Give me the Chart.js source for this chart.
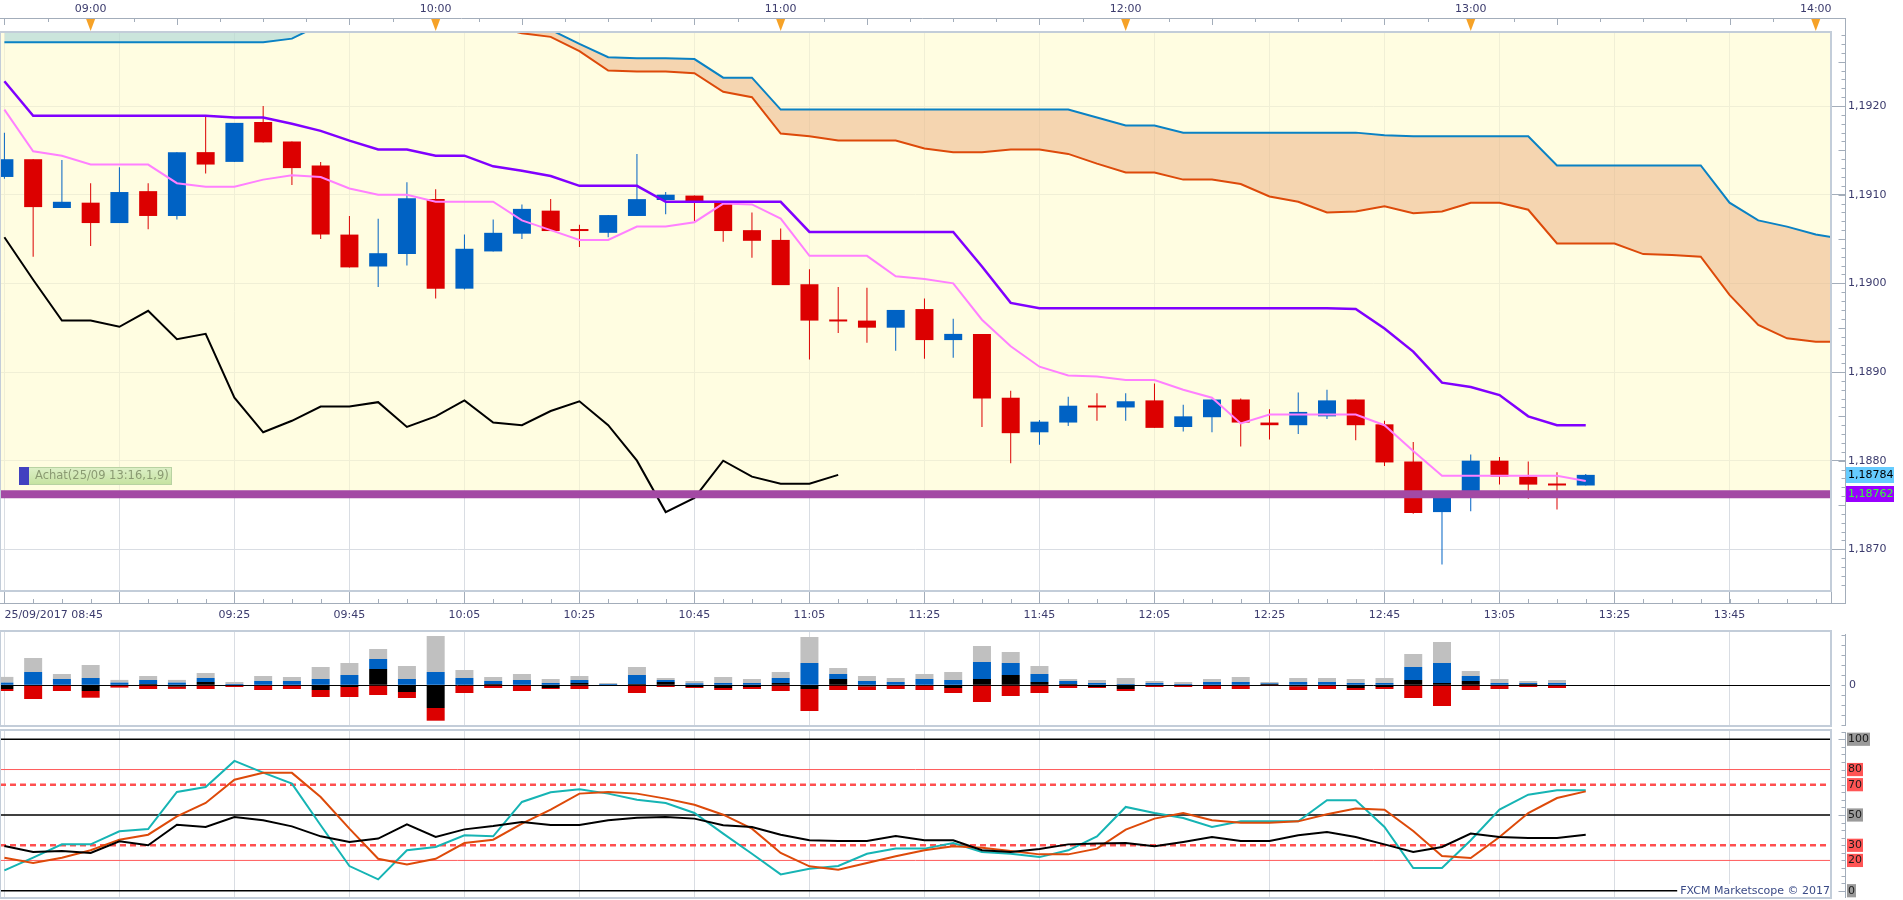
<!DOCTYPE html>
<html>
<head>
<meta charset="utf-8">
<title>EUR/USD m5 - 25/09/2017</title>
<script src="https://cdn.jsdelivr.net/npm/chart.js@4.4.1/dist/chart.umd.min.js"></script>
<style>
  html, body { margin: 0; padding: 0; background: #fff; overflow: hidden; }
  #wrap { position: relative; width: 1903px; height: 900px; }
  canvas { position: absolute; left: 0; }
  #main { top: 0; }
  #vol { top: 628px; }
  #osc { top: 728px; }
</style>
</head>
<body>
<div id="wrap">
  <canvas id="main" width="1903" height="628"></canvas>
  <canvas id="vol" width="1903" height="100"></canvas>
  <canvas id="osc" width="1903" height="172"></canvas>
</div>
<script>
// 5 minute bars, index 0 = 25/09/2017 08:45, last bar = 13:20
const opens = [1.19120, 1.19140, 1.19085, 1.19091, 1.19068, 1.19104, 1.19076, 1.19148, 1.19137, 1.19182,
  1.19160, 1.19133, 1.19055, 1.19019, 1.19033, 1.19095, 1.18994, 1.19036, 1.19056, 1.19082,
  1.19061, 1.19057, 1.19076, 1.19094, 1.19099, 1.19091, 1.19060, 1.19049, 1.18999, 1.18958,
  1.18958, 1.18950, 1.18971, 1.18936, 1.18943, 1.18871, 1.18832, 1.18843, 1.18862, 1.18860,
  1.18868, 1.18838, 1.18849, 1.18869, 1.18843, 1.18840, 1.18850, 1.18869, 1.18841, 1.18799,
  1.18742, 1.18760, 1.18800, 1.18782, 1.18773, 1.18772];
const highs = [1.19170, 1.19140, 1.19139, 1.19113, 1.19131, 1.19113, 1.19148, 1.19189, 1.19181, 1.19200,
  1.19160, 1.19137, 1.19076, 1.19073, 1.19114, 1.19106, 1.19055, 1.19072, 1.19089, 1.19095,
  1.19066, 1.19077, 1.19146, 1.19103, 1.19099, 1.19091, 1.19080, 1.19062, 1.19016, 1.18996,
  1.18995, 1.18970, 1.18983, 1.18960, 1.18943, 1.18879, 1.18846, 1.18872, 1.18876, 1.18876,
  1.18887, 1.18863, 1.18869, 1.18870, 1.18858, 1.18877, 1.18880, 1.18869, 1.18845, 1.18821,
  1.18765, 1.18807, 1.18804, 1.18799, 1.18787, 1.18785];
const lows = [1.19118, 1.19030, 1.19085, 1.19042, 1.19068, 1.19061, 1.19072, 1.19124, 1.19137, 1.19159,
  1.19111, 1.19050, 1.19018, 1.18996, 1.19020, 1.18983, 1.18993, 1.19036, 1.19050, 1.19059,
  1.19041, 1.19052, 1.19076, 1.19078, 1.19068, 1.19047, 1.19029, 1.18998, 1.18914, 1.18944,
  1.18933, 1.18924, 1.18915, 1.18916, 1.18838, 1.18797, 1.18818, 1.18839, 1.18845, 1.18845,
  1.18837, 1.18833, 1.18832, 1.18816, 1.18824, 1.18830, 1.18847, 1.18823, 1.18794, 1.18740,
  1.18683, 1.18743, 1.18773, 1.18757, 1.18745, 1.18772];
const closes = [1.19140, 1.19086, 1.19092, 1.19068, 1.19103, 1.19076, 1.19148, 1.19134, 1.19181, 1.19159,
  1.19130, 1.19055, 1.19018, 1.19034, 1.19096, 1.18994, 1.19039, 1.19057, 1.19084, 1.19059,
  1.19059, 1.19077, 1.19095, 1.19100, 1.19092, 1.19059, 1.19048, 1.18998, 1.18958, 1.18957,
  1.18950, 1.18970, 1.18936, 1.18943, 1.18870, 1.18831, 1.18844, 1.18862, 1.18860, 1.18867,
  1.18837, 1.18850, 1.18869, 1.18843, 1.18840, 1.18855, 1.18868, 1.18840, 1.18798, 1.18741,
  1.18758, 1.18800, 1.18782, 1.18773, 1.18772, 1.18784];

// Ichimoku lines
const tenkan = [1.19196, 1.19149, 1.19144, 1.19134, 1.19134, 1.19134, 1.19113, 1.19109, 1.19109, 1.19117,
  1.19122, 1.19120, 1.19107, 1.19100, 1.19100, 1.19092, 1.19092, 1.19092, 1.19071, 1.19060,
  1.19049, 1.19049, 1.19064, 1.19064, 1.19069, 1.19090, 1.19089, 1.19073, 1.19031, 1.19031,
  1.19031, 1.19008, 1.19005, 1.19000, 1.18959, 1.18929, 1.18906, 1.18896, 1.18895, 1.18891,
  1.18891, 1.18880, 1.18871, 1.18842, 1.18852, 1.18852, 1.18852, 1.18852, 1.18840, 1.18811,
  1.18783, 1.18783, 1.18783, 1.18783, 1.18783, 1.18777];
const kijun = [1.19228, 1.19189, 1.19189, 1.19189, 1.19189, 1.19189, 1.19189, 1.19189, 1.19187, 1.19187,
  1.19180, 1.19172, 1.19161, 1.19151, 1.19151, 1.19144, 1.19144, 1.19132, 1.19127, 1.19121,
  1.19110, 1.19110, 1.19110, 1.19092, 1.19092, 1.19092, 1.19092, 1.19092, 1.19058, 1.19058,
  1.19058, 1.19058, 1.19058, 1.19058, 1.19019, 1.18978, 1.18972, 1.18972, 1.18972, 1.18972,
  1.18972, 1.18972, 1.18972, 1.18972, 1.18972, 1.18972, 1.18972, 1.18971, 1.18949, 1.18923,
  1.18888, 1.18883, 1.18874, 1.18850, 1.18840, 1.18840];
const chikou = [1.19052, 1.19004, 1.18958, 1.18958, 1.18951, 1.18969, 1.18937, 1.18943, 1.18871, 1.18832,
  1.18845, 1.18861, 1.18861, 1.18866, 1.18838, 1.18850, 1.18868, 1.18843, 1.18840, 1.18856,
  1.18867, 1.18840, 1.18800, 1.18742, 1.18758, 1.18800, 1.18782, 1.18774, 1.18774, 1.18784];
const spanA = [1.19272, 1.19272, 1.19272, 1.19272, 1.19272, 1.19272, 1.19272, 1.19272, 1.19272, 1.19272,
  1.19276, 1.19292, 1.19305, 1.19310, 1.19310, 1.19310, 1.19310, 1.19310, 1.19300, 1.19286,
  1.19270, 1.19255, 1.19254, 1.19254, 1.19253, 1.19232, 1.19232, 1.19196, 1.19196, 1.19196,
  1.19196, 1.19196, 1.19196, 1.19196, 1.19196, 1.19196, 1.19196, 1.19196, 1.19187, 1.19178,
  1.19178, 1.19170, 1.19170, 1.19170, 1.19170, 1.19170, 1.19170, 1.19170, 1.19167, 1.19166,
  1.19166, 1.19166, 1.19166, 1.19166, 1.19133, 1.19133, 1.19133, 1.19133, 1.19133, 1.19133,
  1.19091, 1.19071, 1.19064, 1.19055, 1.19050];
const spanB = [1.19320, 1.19320, 1.19320, 1.19320, 1.19320, 1.19320, 1.19320, 1.19320, 1.19320, 1.19320,
  1.19320, 1.19320, 1.19320, 1.19320, 1.19320, 1.19320, 1.19300, 1.19290, 1.19282, 1.19278,
  1.19262, 1.19240, 1.19239, 1.19239, 1.19237, 1.19216, 1.19210, 1.19169, 1.19166, 1.19161,
  1.19161, 1.19161, 1.19152, 1.19148, 1.19148, 1.19151, 1.19151, 1.19146, 1.19135, 1.19125,
  1.19125, 1.19117, 1.19117, 1.19112, 1.19098, 1.19092, 1.19080, 1.19081, 1.19087, 1.19079,
  1.19081, 1.19091, 1.19091, 1.19083, 1.19045, 1.19045, 1.19045, 1.19033, 1.19032, 1.19030,
  1.18987, 1.18953, 1.18938, 1.18934, 1.18934];

const lastPrice = 1.18784;
const positionPrice = 1.18762;
const positionLabel = 'Achat(25/09 13:16,1,9)';

// volume panel (stacked parts)
const volBlack = [-3.7, 0, 0, -5.7, 0, 1.3, -1.3, 3.3, 0, 0,
  0, -4.7, -1.7, 16.3, -6.7, -22.7, 0, 1.3, 0, -2.7,
  2.3, 0, 1.3, 3.3, -1.7, -2.7, -1.7, 2.3, -3.7, 6.3,
  -1, 0, 0, -2.7, 6.3, 10.3, 3.3, 1.3, -1.7, -3.7,
  0, 0, 0, 0, 1.3, -1, 0, -2.7, -1.7, 5.3,
  2.3, 4.3, 0, 1.3, 0];
const volBlue = [2.7, 13.3, 6.3, 7.3, 2.7, 4, 2.7, 4, 1.3, 4.3,
  4.3, 6.3, 10.3, 10, 6.3, 13.3, 7.3, 3, 5.3, 2.3,
  3, 1.3, 9, 2, 2, 2.3, 2.3, 5, 22.3, 5,
  4.3, 3.3, 6.3, 5.3, 17, 12, 8, 3, 2.3, 1.3,
  2.3, 1.3, 3.3, 3.3, 0.7, 3.3, 3.3, 2.3, 2.3, 13,
  20, 5, 2.3, 1, 2.3];
const volGray = [5.7, 14, 5, 13, 2.7, 4, 2.7, 5, 2, 5,
  4, 12, 12, 10, 13, 36, 8, 4, 6, 4,
  4, 1, 8, 2, 2.3, 6, 4, 6, 26, 6,
  5, 4, 5, 8, 16, 11, 8, 2, 3, 6,
  2, 2, 3, 5, 1.3, 4, 4, 4, 5, 13,
  21, 5, 4, 2, 3];
const volRed = [-2, -13.7, -5.7, -6.7, -2.3, -3.7, -2.3, -3.7, -1.7, -4.7,
  -3.7, -7, -10, -9.7, -6, -12.7, -7.7, -2.7, -5.7, -1,
  -3.7, -0.5, -7.7, -1.7, -1, -2, -2, -5.7, -22, -4.7,
  -3.7, -3.7, -4.7, -5, -16.7, -10.7, -7.7, -2.7, -1, -2,
  -1.7, -1.7, -3.7, -3.7, -0.7, -3.7, -3.7, -2, -2, -12.7,
  -20.7, -4.7, -3.7, -1.7, -2.7];

// oscillator panel
const oscCyan = [13.4, 21.8, 30.6, 30.6, 39.2, 40.7, 65.2, 68.5, 85.7, 78.0,
  70.7, 43.2, 16.3, 7.5, 26.7, 28.9, 36.6, 35.9, 58.6, 65.0,
  67.0, 64.1, 60.1, 57.9, 51.3, 37.7, 24.4, 10.8, 14.5, 16.3,
  24.4, 27.8, 27.8, 31.5, 25.6, 24.4, 22.2, 26.7, 35.9, 55.3,
  51.3, 48.0, 42.1, 45.8, 45.8, 45.8, 59.7, 59.7, 42.1, 15.0,
  15.0, 33.3, 53.5, 63.4, 66.3, 66.3];
const oscOrange = [21.8, 18.3, 21.8, 26.7, 33.7, 37.0, 49.1, 57.9, 73.3, 77.8,
  77.8, 61.9, 41.0, 21.1, 17.4, 21.1, 31.5, 33.7, 44.3, 53.5,
  64.1, 65.2, 64.1, 60.8, 56.8, 50.2, 41.0, 24.9, 16.1, 13.9,
  18.3, 22.7, 26.7, 29.3, 28.4, 26.2, 24.0, 24.0, 27.8, 40.3,
  47.6, 51.3, 46.5, 44.9, 44.9, 45.8, 50.5, 54.2, 53.5, 39.4,
  22.9, 21.6, 35.5, 51.3, 61.2, 65.6];
const oscBlack = [29.5, 25.6, 26.2, 24.9, 32.6, 30.0, 43.6, 42.1, 48.7, 46.5,
  42.5, 35.9, 32.2, 34.4, 43.8, 35.5, 40.5, 42.7, 45.4, 43.4,
  43.4, 46.5, 48.2, 48.7, 47.6, 43.2, 42.1, 37.0, 33.3, 32.8,
  32.8, 36.1, 33.3, 33.3, 26.7, 25.6, 27.5, 30.6, 31.1, 31.5,
  29.3, 32.2, 35.5, 32.8, 32.8, 36.6, 38.8, 35.5, 30.6, 25.6,
  28.9, 37.7, 35.5, 34.8, 34.8, 37.0];
const oscLevels = [0, 20, 30, 50, 70, 80, 100];
const oscLevelLabels = ['0', '20', '30', '50', '70', '80', '100'];

// axes
const hourTicks = [3, 15, 27, 39, 51, 63];
const hourLabels = ['09:00', '10:00', '11:00', '12:00', '13:00', '14:00'];
const gridTicks = [0, 4, 8, 12, 16, 20, 24, 28, 32, 36, 40, 44, 48, 52, 56, 60];
const gridLabels = ['25/09/2017 08:45', '', '09:25', '09:45', '10:05', '10:25', '10:45', '11:05',
  '11:25', '11:45', '12:05', '12:25', '12:45', '13:05', '13:25', '13:45'];
const priceTicks = [1.1870, 1.1880, 1.1890, 1.1900, 1.1910, 1.1920];
const priceTickLabels = ['1,1870', '1,1880', '1,1890', '1,1900', '1,1910', '1,1920'];
const volTicks = [-40, -30, -20, -10, 0, 10, 20, 30, 40, 50];
const volTickLabels = ['', '', '', '', '0', '', '', '', '', ''];
const copyright = 'FXCM Marketscope © 2017';

const X_MIN = -0.153, X_MAX = 63.53;
const Y_MIN = 1.18653, Y_MAX = 1.192835;
const VOL_MIN = -40.7, VOL_MAX = 54.3;
const OSC_MIN = -4.8, OSC_MAX = 106.1;

const FONT = "'DejaVu Sans', Verdana, sans-serif";
const TXT = '#3b3b6d';
const GRID = '#d9dde3';
const AXIS = '#a3adba';
const FRAME = '#c3cdd9';
const UP = '#0062c4', DOWN = '#dc0000';

Chart.defaults.font.family = FONT;
Chart.defaults.font.size = 11;

const pts = arr => arr.map((v, i) => ({ x: i, y: v }));
const span = v => [{ x: X_MIN, y: v }, { x: X_MAX, y: v }];
const candleColors = closes.map((c, i) => c >= opens[i] ? UP : DOWN);
const fmt = v => v.toFixed(5).replace('.', ',');

function line(ctx, x1, y1, x2, y2) {
  ctx.beginPath(); ctx.moveTo(x1, y1); ctx.lineTo(x2, y2); ctx.stroke();
}
function frame(chart) {
  const { ctx, chartArea: a } = chart;
  ctx.strokeStyle = FRAME; ctx.lineWidth = 2;
  ctx.strokeRect(a.left, a.top, a.right - a.left, a.bottom - a.top);
}
function rightAxis(chart, step, longEvery, y0, y1) {
  const { ctx, chartArea: a, scales: { y } } = chart;
  const ax = Math.round(a.right) + 14.5;
  ctx.strokeStyle = AXIS; ctx.lineWidth = 1;
  line(ctx, ax, y0, ax, y1);
  const lo = Math.ceil(y.min / step - 1e-6), hi = Math.floor(y.max / step + 1e-6);
  for (let k = lo; k <= hi; k++) {
    const py = Math.round(y.getPixelForValue(k * step)) + 0.5;
    const len = (longEvery && k % longEvery === 0) ? 7 : 4;
    line(ctx, ax - len, py, ax, py);
  }
  return ax;
}
function priceTag(ctx, ax, py, text, bg, fg) {
  ctx.fillStyle = bg;
  ctx.fillRect(ax + 0.5, Math.round(py) - 8, 48, 16);
  ctx.fillStyle = fg;
  ctx.font = '11px ' + FONT;
  ctx.textAlign = 'left'; ctx.textBaseline = 'middle';
  ctx.fillText(text, ax + 2.5, Math.round(py) + 0.5);
}

const mainDecor = {
  id: 'mainDecor',
  afterDraw(chart) {
    const { ctx, chartArea: a, scales: { x, y } } = chart;
    ctx.save();
    frame(chart);
    const ax = rightAxis(chart, 0.0001, 5, 18, a.bottom + 13);
    ctx.strokeStyle = AXIS; ctx.lineWidth = 1;
    // top time axis
    line(ctx, 0, 18.5, ax, 18.5);
    for (let v = 0; v <= X_MAX; v += 1.5) {
      const px = Math.round(x.getPixelForValue(v)) + 0.5;
      line(ctx, px, 18.5, px, v % 6 === 0 ? 25 : 22);
    }
    // bottom time axis
    const by = Math.round(a.bottom) + 12.5;
    line(ctx, 0, by, ax, by);
    for (let i = 0; i <= X_MAX; i++) {
      const px = Math.round(x.getPixelForValue(i)) + 0.5;
      line(ctx, px, by - 4.5, px, by);
    }
    // hour markers
    ctx.fillStyle = '#f6a227';
    hourTicks.forEach(h => {
      const px = x.getPixelForValue(h);
      ctx.beginPath();
      ctx.moveTo(px - 4.5, 19); ctx.lineTo(px + 4.5, 19); ctx.lineTo(px, 31);
      ctx.closePath(); ctx.fill();
    });
    // price tags
    priceTag(ctx, ax, y.getPixelForValue(lastPrice), fmt(lastPrice), '#66ccff', '#000');
    priceTag(ctx, ax, y.getPixelForValue(positionPrice), fmt(positionPrice), '#9900ff', '#33ff33');
    // open position label
    const py = y.getPixelForValue(positionPrice);
    const bx = a.left + 19, bt = Math.round(py) - 27, bw = 153, bh = 18;
    const g = ctx.createLinearGradient(0, bt, 0, bt + bh);
    g.addColorStop(0, '#ddf0c8'); g.addColorStop(1, '#c5e2a0');
    ctx.fillStyle = g; ctx.fillRect(bx, bt, bw, bh);
    ctx.strokeStyle = '#b8d2a2'; ctx.strokeRect(bx + 0.5, bt + 0.5, bw - 1, bh - 1);
    ctx.fillStyle = '#4141c0'; ctx.fillRect(bx, bt, 10, bh);
    ctx.fillStyle = '#8a9a72';
    ctx.font = '11.5px ' + FONT; ctx.textAlign = 'left'; ctx.textBaseline = 'middle';
    ctx.fillText(positionLabel, bx + 16, bt + bh / 2 + 0.5);
    ctx.restore();
  }
};

const volDecor = {
  id: 'volDecor',
  afterDraw(chart) {
    const { ctx, chartArea: a } = chart;
    ctx.save();
    frame(chart);
    rightAxis(chart, 10, 0, a.top + 3, a.bottom);
    ctx.restore();
  }
};

const oscDecor = {
  id: 'oscDecor',
  afterDraw(chart) {
    const { ctx, chartArea: a } = chart;
    ctx.save();
    frame(chart);
    rightAxis(chart, 5, 10, a.top + 2, a.bottom);
    ctx.font = '11px ' + FONT; ctx.textAlign = 'right'; ctx.textBaseline = 'middle';
    const tw = ctx.measureText(copyright).width;
    ctx.fillStyle = '#fff';
    ctx.fillRect(a.right - tw - 4, a.bottom - 14, tw + 3, 13);
    ctx.fillStyle = '#3a4a86';
    ctx.fillText(copyright, a.right - 1, a.bottom - 6.5);
    ctx.restore();
  }
};

function timeAxis(height, labels) {
  return {
    type: 'linear', min: X_MIN, max: X_MAX, offset: false,
    afterBuildTicks: s => { s.ticks = gridTicks.concat([X_MAX]).map(v => ({ value: v })); },
    afterFit: s => { s.height = height; s.paddingLeft = 0; s.paddingRight = 0; },
    ticks: labels ? {
      callback: (v, i) => gridLabels[i] || '', autoSkip: false, maxRotation: 0, minRotation: 0,
      align: 'inner', padding: 0, color: TXT, font: { family: FONT, size: 11, lineHeight: '24px' }
    } : { display: false },
    grid: { color: GRID, offset: false, drawTicks: !!labels, tickLength: 12, tickColor: AXIS },
    border: { display: false }
  };
}

const common = {
  responsive: false, maintainAspectRatio: false, animation: false, events: [],
  layout: { padding: 0, autoPadding: false },
  plugins: { legend: { display: false }, tooltip: { enabled: false }, filler: { drawTime: 'beforeDatasetsDraw' } }
};

// ---------- price panel ----------
new Chart(document.getElementById('main'), {
  type: 'line',
  data: {
    datasets: [
      { label: 'position', data: span(positionPrice), borderColor: '#a349a4', borderWidth: 8,
        pointRadius: 0, fill: false, order: 0 },
      { label: 'kijun', data: pts(kijun), borderColor: '#8000ff', borderWidth: 2.5, pointRadius: 0, order: 1 },
      { label: 'tenkan', data: pts(tenkan), borderColor: '#ff80ff', borderWidth: 2, pointRadius: 0, order: 1 },
      { label: 'chikou', data: pts(chikou), borderColor: '#000', borderWidth: 2, pointRadius: 0, order: 1 },
      { label: 'spanA', data: pts(spanA), borderColor: '#0a82c4', borderWidth: 2, pointRadius: 0, order: 2,
        fill: { target: '+1', above: 'rgba(230,160,110,0.42)', below: 'rgba(140,200,215,0.45)' } },
      { label: 'spanB', data: pts(spanB), borderColor: '#dd4a0a', borderWidth: 2, pointRadius: 0, order: 2, fill: false },
      { type: 'bar', label: 'body', data: opens.map((o, i) => ({ x: i, y: [o, closes[i]] })),
        backgroundColor: candleColors, grouped: false, maxBarThickness: 18, minBarLength: 2,
        borderWidth: 0, order: 3 },
      { type: 'bar', label: 'wick', data: lows.map((l, i) => ({ x: i, y: [l, highs[i]] })),
        backgroundColor: candleColors, grouped: false, maxBarThickness: 1, borderWidth: 0, order: 4 },
      { label: 'bg', data: span(positionPrice), borderWidth: 0, pointRadius: 0,
        fill: 'end', backgroundColor: 'rgba(255,252,205,0.6)', order: 9 }
    ]
  },
  options: Object.assign({}, common, {
    scales: {
      x: timeAxis(37, true),
      xTop: {
        type: 'linear', position: 'top', min: X_MIN, max: X_MAX, offset: false,
        afterBuildTicks: s => { s.ticks = hourTicks.map(v => ({ value: v })); },
        afterFit: s => { s.height = 32; s.paddingLeft = 0; s.paddingRight = 0; },
        ticks: { callback: (v, i) => hourLabels[i], autoSkip: false, maxRotation: 0, minRotation: 0,
          padding: 16, color: TXT, font: { family: FONT, size: 11, lineHeight: '14px' } },
        grid: { drawOnChartArea: false, drawTicks: false },
        border: { display: false }
      },
      y: {
        position: 'right', min: Y_MIN, max: Y_MAX,
        afterBuildTicks: s => { s.ticks = priceTicks.map(v => ({ value: v })); },
        afterFit: s => { s.width = 72; s.paddingTop = 0; s.paddingBottom = 0; },
        ticks: { callback: (v, i) => priceTickLabels[i], padding: 3, color: TXT, font: { family: FONT, size: 11 } },
        grid: { color: GRID, tickLength: 14, tickColor: AXIS },
        border: { display: false }
      }
    }
  }),
  plugins: [mainDecor]
});

// ---------- volume panel ----------
new Chart(document.getElementById('vol'), {
  type: 'bar',
  data: {
    datasets: [
      { label: 'net', data: pts(volBlack), backgroundColor: '#000' },
      { label: 'buy', data: pts(volBlue), backgroundColor: UP },
      { label: 'total', data: pts(volGray), backgroundColor: '#c0c0c0' },
      { label: 'sell', data: pts(volRed), backgroundColor: DOWN }
    ].map(d => Object.assign(d, { grouped: false, maxBarThickness: 18, borderWidth: 0 }))
  },
  options: Object.assign({}, common, {
    layout: { padding: { top: 3 }, autoPadding: false },
    scales: {
      x: Object.assign(timeAxis(2, false), { stacked: true }),
      y: {
        position: 'right', stacked: true, min: VOL_MIN, max: VOL_MAX,
        afterBuildTicks: s => { s.ticks = volTicks.map(v => ({ value: v })); },
        afterFit: s => { s.width = 72; s.paddingTop = 0; s.paddingBottom = 0; },
        ticks: { callback: (v, i) => volTickLabels[i], padding: 18, color: TXT, font: { family: FONT, size: 11 } },
        grid: { color: c => (c.tick && c.tick.value === 0) ? '#000' : 'rgba(0,0,0,0)', drawTicks: false },
        border: { display: false }
      }
    }
  }),
  plugins: [volDecor]
});

// ---------- oscillator panel ----------
const levelColors = ['#000', '#ff5a5a', '#ff5050', '#000', '#ff5050', '#ff5a5a', '#000'];
const levelWidths = [1.5, 1, 2.5, 1.5, 2.5, 1, 1.5];
const levelDash = [[], [], [6, 4], [], [6, 4], [], []];
const levelBoxes = ['#9a9a9a', '#ff5555', '#ff5555', '#9a9a9a', '#ff5555', '#ff5555', '#9a9a9a'];

new Chart(document.getElementById('osc'), {
  type: 'line',
  data: {
    datasets: [
      { label: 'black', data: pts(oscBlack), borderColor: '#000', borderWidth: 2, pointRadius: 0, order: 1 },
      { label: 'orange', data: pts(oscOrange), borderColor: '#dd4a0a', borderWidth: 2, pointRadius: 0, order: 2 },
      { label: 'cyan', data: pts(oscCyan), borderColor: '#16b4b4', borderWidth: 2, pointRadius: 0, order: 3 }
    ].concat(oscLevels.map((L, k) => ({
      label: 'level ' + L, data: span(L), borderColor: levelColors[k], borderWidth: levelWidths[k],
      borderDash: levelDash[k], pointRadius: 0, order: 5
    })))
  },
  options: Object.assign({}, common, {
    layout: { padding: { top: 2 }, autoPadding: false },
    scales: {
      x: timeAxis(2, false),
      y: {
        position: 'right', min: OSC_MIN, max: OSC_MAX,
        afterBuildTicks: s => { s.ticks = oscLevels.map(v => ({ value: v })); },
        afterFit: s => { s.width = 72; s.paddingTop = 0; s.paddingBottom = 0; },
        ticks: {
          callback: (v, i) => oscLevelLabels[i], padding: 17, color: '#1a1a1a', font: { family: FONT, size: 11 },
          showLabelBackdrop: true, backdropColor: c => levelBoxes[c.index], backdropPadding: { x: 1, y: 0 }
        },
        grid: { display: false, drawTicks: false },
        border: { display: false }
      }
    }
  }),
  plugins: [oscDecor]
});
</script>
</body>
</html>
